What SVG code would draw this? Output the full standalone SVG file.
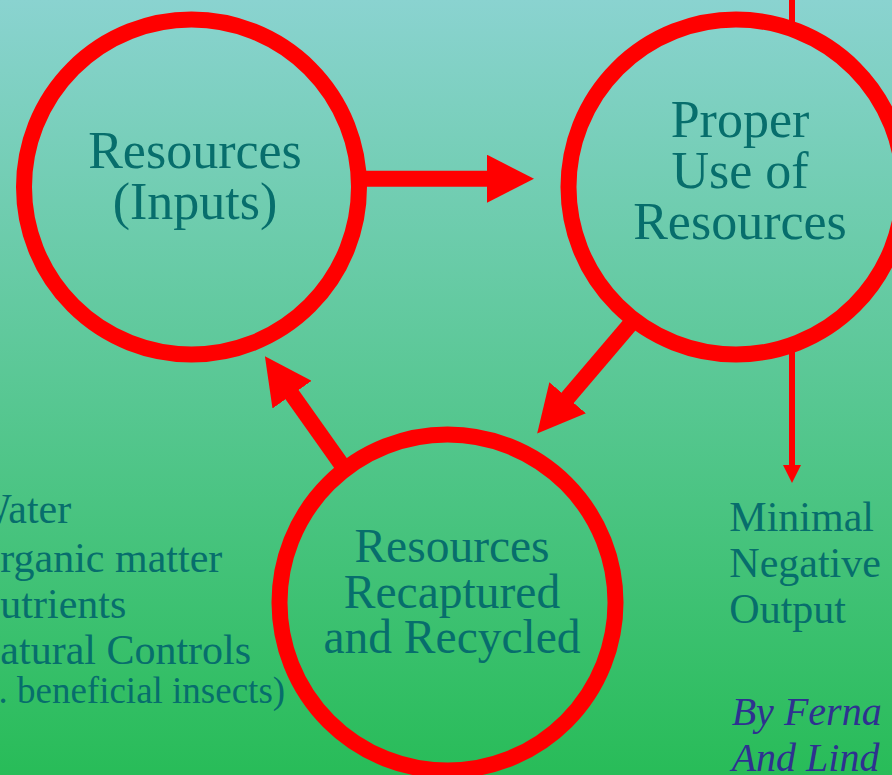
<svg xmlns="http://www.w3.org/2000/svg" width="892" height="775" viewBox="0 0 892 775">
  <defs>
    <linearGradient id="bg" x1="0" y1="0" x2="0" y2="1">
      <stop offset="0" stop-color="#8AD3D0"/>
      <stop offset="1" stop-color="#28BC58"/>
    </linearGradient>
    <marker id="head" viewBox="0 0 47 48" markerUnits="userSpaceOnUse" markerWidth="47" markerHeight="48" refX="1" refY="24" orient="auto">
      <path d="M0,0 L47,24 L0,48 Z" fill="#FF0000"/>
    </marker>
    <marker id="thinhead" viewBox="0 0 18 18" markerUnits="userSpaceOnUse" markerWidth="18" markerHeight="18" refX="1" refY="9" orient="auto">
      <path d="M0,0 L18,9 L0,18 Z" fill="#FF0000"/>
    </marker>
    <style>
      .ring { fill: none; stroke: #FF0000; stroke-width: 16; }
      .shaft { fill: none; stroke: #FF0000; stroke-width: 16; marker-end: url(#head); }
      .thin { fill: none; stroke: #FF0000; stroke-width: 6; }
      .lbl { font-family: "Liberation Serif", "Times New Roman", serif; fill: #076E6C; }
      .big { font-size: 52px; text-anchor: middle; }
      .mid { font-size: 47.5px; text-anchor: middle; }
      .list { font-size: 42px; }
      .small { font-size: 37px; }
      .author { font-family: "Liberation Serif", "Times New Roman", serif; font-style: italic; font-size: 40px; fill: #2E3190; }
    </style>
  </defs>
  <rect x="0" y="0" width="892" height="775" fill="url(#bg)"/>

  <g id="connectors">
    <line x1="792" y1="0" x2="792" y2="24" class="thin"/>
    <line x1="360" y1="178.7" x2="488" y2="178.7" class="shaft"/>
    <line x1="633" y1="321" x2="567" y2="398.5" class="shaft"/>
    <line x1="346.4" y1="471.3" x2="291.5" y2="393.8" class="shaft"/>
    <line x1="792" y1="350" x2="792" y2="466" class="thin" marker-end="url(#thinhead)"/>
  </g>

  <g id="node-inputs">
    <circle cx="191.5" cy="187" r="167.5" class="ring"/>
    <text class="lbl big" x="195" y="167.7">Resources</text>
    <text class="lbl big" x="195" y="219">(Inputs)</text>
  </g>

  <g id="node-proper-use">
    <circle cx="736" cy="187" r="167.5" class="ring"/>
    <text class="lbl big" x="740" y="136.7">Proper</text>
    <text class="lbl big" x="740" y="187.7">Use of</text>
    <text class="lbl big" x="740" y="239.3">Resources</text>
  </g>

  <g id="node-recycled">
    <circle cx="447.5" cy="602.5" r="168" class="ring"/>
    <text class="lbl mid" x="452" y="561.7">Resources</text>
    <text class="lbl mid" x="452" y="607.7">Recaptured</text>
    <text class="lbl mid" x="452" y="653.3">and Recycled</text>
  </g>

  <g id="node-output">
    <text class="lbl list" x="729.3" y="531">Minimal</text>
    <text class="lbl list" x="729.3" y="576.7">Negative</text>
    <text class="lbl list" x="729.3" y="622.7">Output</text>
  </g>

  <g id="node-resource-list">
    <text class="lbl list" x="-28" y="523.3">Water</text>
    <text class="lbl list" x="-30" y="571.7">Organic matter</text>
    <text class="lbl list" x="-30" y="617.7">Nutrients</text>
    <text class="lbl list" x="-30" y="664.3">Natural Controls</text>
    <text class="lbl small" x="-58" y="703.3">(e.g. beneficial insects)</text>
  </g>

  <g id="node-authors">
    <text class="author" x="731.7" y="725">By Ferna</text>
    <text class="author" x="731.7" y="771">And Lind</text>
  </g>
</svg>
